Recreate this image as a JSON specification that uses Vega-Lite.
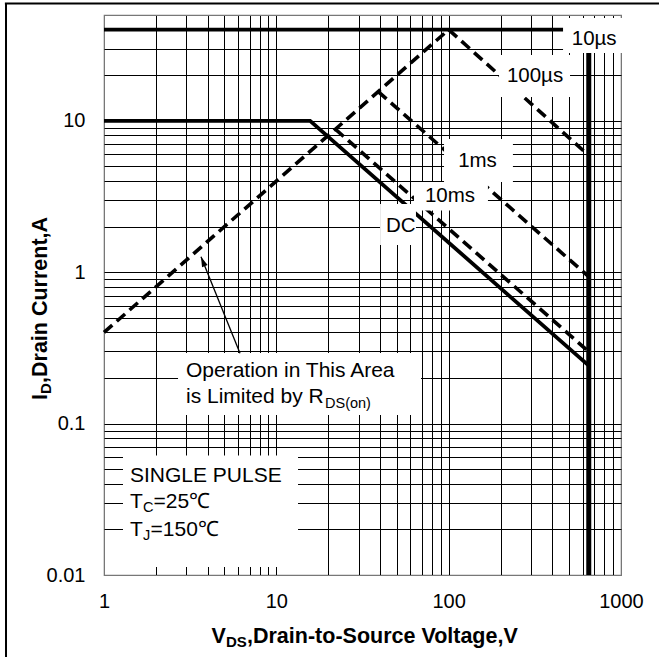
{
  "$schema": "https://vega.github.io/schema/vega-lite/v6.json",
  "width": 517,
  "height": 560,
  "autosize": {"type": "none"},
  "padding": {"left": 104, "top": 15, "right": 38, "bottom": 82},
  "background": "white",
  "config": {"view": {"stroke": "#777", "strokeWidth": 1.2}, "font": "Liberation Sans"},
  "datasets": {
    "solid": [
      {"s": "10us", "V": 1, "I": 40}, {"s": "10us", "V": 650, "I": 40},
      {"s": "DC", "V": 1, "I": 10}, {"s": "DC", "V": 15.7, "I": 10}, {"s": "DC", "V": 650, "I": 0.2415}
    ],
    "dashed": [
      {"s": "RDS-100us", "V": 1, "I": 0.4}, {"s": "RDS-100us", "V": 100, "I": 40}, {"s": "RDS-100us", "V": 650, "I": 5.9},
      {"s": "1ms", "V": 39, "I": 15.6}, {"s": "1ms", "V": 650, "I": 0.934},
      {"s": "10ms", "V": 22, "I": 8.8}, {"s": "10ms", "V": 650, "I": 0.2985}
    ],
    "vline": [{"V": 650, "I": 0.01, "V2": 650, "I2": 40}],
    "frame": [
      {"V": 0.27, "I": 60, "V2": 0.27, "I2": 0.0027},
      {"V": 0.266, "I": 59.6, "V2": 1700, "I2": 59.6}
    ],
    "boxes": [
      {"b": "10us", "V": 461, "V2": 1055, "I": 28.05, "I2": 47.8},
      {"b": "100us", "V": 196, "V2": 506, "I": 14.37, "I2": 27.2},
      {"b": "1ms", "V": 94, "V2": 236, "I": 3.94, "I2": 7.59},
      {"b": "10ms", "V": 62.9, "V2": 169, "I": 2.557, "I2": 3.94},
      {"b": "DC", "V": 40, "V2": 64.6, "I": 1.513, "I2": 2.823},
      {"b": "op", "V": 2.689, "V2": 69.1, "I": 0.114, "I2": 0.2927},
      {"b": "sp", "V": 1.289, "V2": 13.36, "I": 0.0113, "I2": 0.0616}
    ],
    "labels": [
      {"t": "10µs", "V": 699, "I": 31.7},
      {"t": "100µs", "V": 317, "I": 18.1},
      {"t": "1ms", "V": 147, "I": 4.98},
      {"t": "10ms", "V": 101.8, "I": 2.923},
      {"t": "DC", "V": 52.8, "I": 1.853}
    ],
    "notes": [
      {"t": "Operation in This Area", "V": 2.99, "I": 0.2042},
      {"t": "is Limited by R", "V": 2.99, "I": 0.1375},
      {"t": "SINGLE PULSE", "V": 1.415, "I": 0.04135},
      {"t": "T", "V": 1.415, "I": 0.02758},
      {"t": "=25℃", "V": 1.937, "I": 0.02758},
      {"t": "T", "V": 1.415, "I": 0.0181},
      {"t": "=150℃", "V": 1.862, "I": 0.0181}
    ],
    "subs": [
      {"t": "DS(on)", "V": 19.16, "I": 0.1268},
      {"t": "C", "V": 1.684, "I": 0.02597},
      {"t": "J", "V": 1.684, "I": 0.01703}
    ],
    "xtitle": [
      {"t": "V", "V": 4.206, "I": 0.00354},
      {"t": ",Drain-to-Source Voltage,V", "V": 6.757, "I": 0.00354}
    ],
    "xtitlesub": [{"t": "DS", "V": 5.105, "I": 0.003321}],
    "ytitle": [
      {"t": "I", "V": 0.4652, "I": 0.1433},
      {"t": ",Drain Current,A", "V": 0.4652, "I": 0.1855}
    ],
    "ytitlesub": [{"t": "D", "V": 0.4906, "I": 0.1569}],
    "arrow": [{"V": 6.155, "I": 0.2914, "V2": 3.655, "I2": 1.266}],
    "arrowhead": [{"V": 3.655, "I": 1.266}]
  },
  "encoding": {
    "x": {
      "field": "V", "type": "quantitative",
      "scale": {"type": "log", "domain": [1, 1000], "nice": false},
      "axis": {
        "values": [1,2,3,4,5,6,7,8,9,10,20,30,40,50,60,70,80,90,100,200,300,400,500,600,700,800,900,1000],
        "labelExpr": "abs(log(datum.value)/LN10 - round(log(datum.value)/LN10)) < 0.001 ? format(datum.value, '~g') : ''",
        "grid": true,
        "gridColor": {"condition": {"test": "datum.value == 1 || datum.value == 1000", "value": "#777"}, "value": "black"},
        "gridWidth": 1,
        "ticks": false, "tickSize": 0, "domain": false,
        "labelFont": "Liberation Sans", "labelFontSize": 20, "labelColor": "black",
        "labelPadding": 16, "labelOverlap": false, "labelFlush": false, "labelBound": false,
        "title": null
      }
    },
    "y": {
      "field": "I", "type": "quantitative",
      "scale": {"type": "log", "domain": [0.01, 50], "nice": false},
      "axis": {
        "values": [0.01,0.02,0.03,0.04,0.05,0.06,0.07,0.08,0.09,0.1,0.2,0.3,0.4,0.5,0.6,0.7,0.8,0.9,1,2,3,4,5,6,7,8,9,10,20,30,40,50],
        "labelExpr": "abs(log(datum.value)/LN10 - round(log(datum.value)/LN10)) < 0.001 ? format(datum.value, '~g') : ''",
        "grid": true,
        "gridColor": {"condition": {"test": "datum.value == 0.01 || datum.value == 50", "value": "#777"}, "value": "black"},
        "gridWidth": 1,
        "ticks": false, "tickSize": 0, "domain": false,
        "labelFont": "Liberation Sans", "labelFontSize": 20, "labelColor": "black",
        "labelPadding": 19, "labelOverlap": false, "labelFlush": false, "labelBound": false,
        "title": null
      }
    }
  },
  "layer": [
    {
      "data": {"name": "solid"},
      "mark": {"type": "line", "color": "black", "strokeWidth": 3.8},
      "encoding": {"detail": {"field": "s"}}
    },
    {
      "data": {"name": "dashed"},
      "mark": {"type": "line", "color": "black", "strokeWidth": 3.6, "strokeDash": [11, 6], "strokeCap": "butt"},
      "encoding": {"detail": {"field": "s"}}
    },
    {
      "data": {"name": "vline"},
      "mark": {"type": "rule", "color": "black", "strokeWidth": 5},
      "encoding": {"x2": {"field": "V2"}, "y2": {"field": "I2"}}
    },
    {
      "data": {"name": "boxes"},
      "mark": {"type": "rect", "fill": "white", "strokeWidth": 0},
      "encoding": {"x2": {"field": "V2"}, "y2": {"field": "I2"}}
    },
    {
      "data": {"name": "frame"},
      "mark": {"type": "rule", "color": "black", "strokeWidth": 2},
      "encoding": {"x2": {"field": "V2"}, "y2": {"field": "I2"}}
    },
    {
      "data": {"name": "arrow"},
      "mark": {"type": "rule", "color": "black", "strokeWidth": 1.3},
      "encoding": {"x2": {"field": "V2"}, "y2": {"field": "I2"}}
    },
    {
      "data": {"name": "arrowhead"},
      "mark": {"type": "point", "shape": "M0,0L-0.5,1.7L0.5,1.7Z", "size": 144, "angle": 338, "filled": true, "color": "black", "opacity": 1, "strokeWidth": 0}
    },
    {
      "data": {"name": "labels"},
      "mark": {"type": "text", "align": "center", "baseline": "alphabetic", "fontSize": 20.5, "font": "Liberation Sans", "color": "black"},
      "encoding": {"text": {"field": "t"}}
    },
    {
      "data": {"name": "notes"},
      "mark": {"type": "text", "align": "left", "baseline": "alphabetic", "fontSize": 21, "font": "Liberation Sans", "color": "black"},
      "encoding": {"text": {"field": "t"}}
    },
    {
      "data": {"name": "subs"},
      "mark": {"type": "text", "align": "left", "baseline": "alphabetic", "fontSize": 14.5, "font": "Liberation Sans", "color": "black"},
      "encoding": {"text": {"field": "t"}}
    },
    {
      "data": {"name": "xtitle"},
      "mark": {"type": "text", "align": "left", "baseline": "alphabetic", "fontSize": 21.5, "fontWeight": "bold", "font": "Liberation Sans", "color": "black"},
      "encoding": {"text": {"field": "t"}}
    },
    {
      "data": {"name": "xtitlesub"},
      "mark": {"type": "text", "align": "left", "baseline": "alphabetic", "fontSize": 15, "fontWeight": "bold", "font": "Liberation Sans", "color": "black"},
      "encoding": {"text": {"field": "t"}}
    },
    {
      "data": {"name": "ytitle"},
      "mark": {"type": "text", "align": "left", "baseline": "alphabetic", "angle": 270, "fontSize": 21.5, "fontWeight": "bold", "font": "Liberation Sans", "color": "black"},
      "encoding": {"text": {"field": "t"}}
    },
    {
      "data": {"name": "ytitlesub"},
      "mark": {"type": "text", "align": "left", "baseline": "alphabetic", "angle": 270, "fontSize": 15, "fontWeight": "bold", "font": "Liberation Sans", "color": "black"},
      "encoding": {"text": {"field": "t"}}
    }
  ]
}
